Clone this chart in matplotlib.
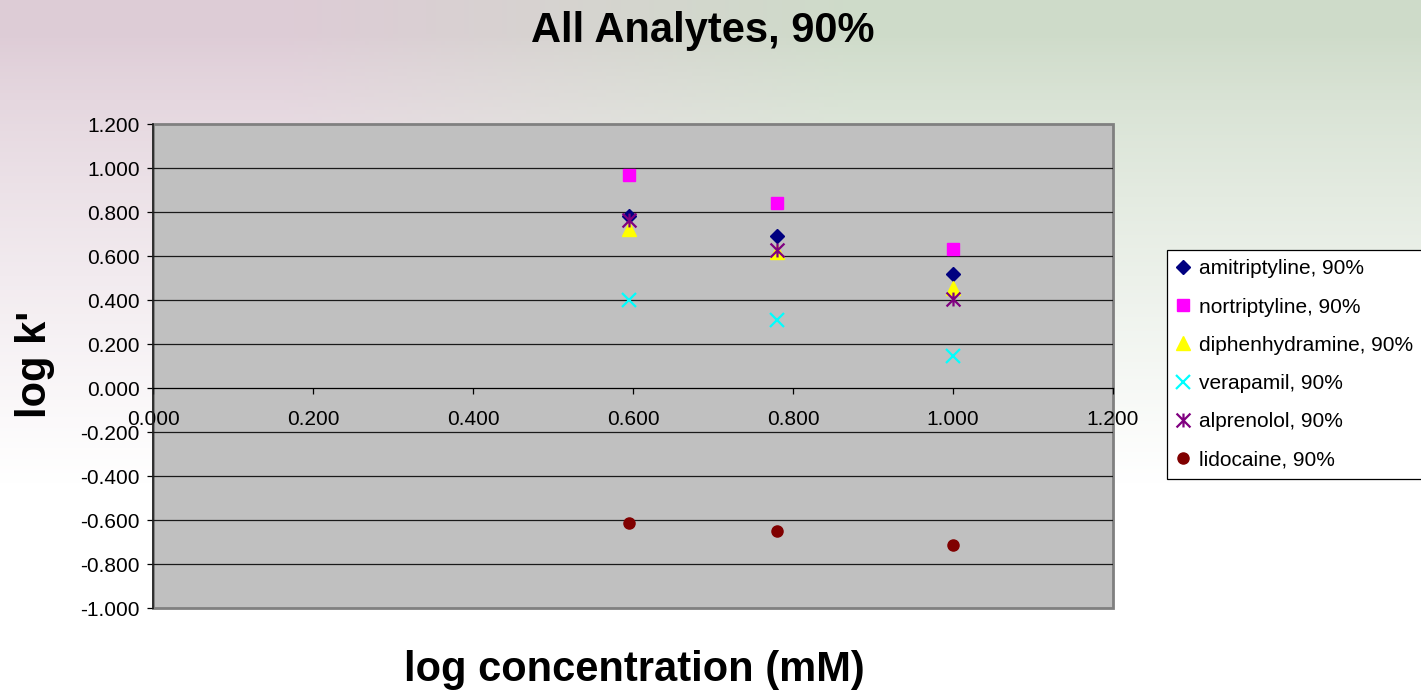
import numpy as np
import matplotlib
matplotlib.use("Agg")
import matplotlib.pyplot as plt
from matplotlib.path import Path
from matplotlib.patches import Rectangle

plt.rcParams['font.family'] = ['Liberation Sans', 'DejaVu Sans']

# ----------------------- Data ------------------------------------------------
log_conc = [0.595, 0.780, 1.000]

names = ["amitriptyline, 90%", "nortriptyline, 90%", "diphenhydramine, 90%",
         "verapamil, 90%", "alprenolol, 90%", "lidocaine, 90%"]
amitriptyline = [0.783, 0.691, 0.518]
nortriptyline = [0.967, 0.841, 0.632]
diphenhydramine = [0.722, 0.620, 0.455]
verapamil = [0.400, 0.309, 0.144]
alprenolol = [0.762, 0.627, 0.405]
lidocaine = [-0.614, -0.650, -0.714]

x_ticks = [0.0, 0.2, 0.4, 0.6, 0.8, 1.0, 1.2]
y_ticks = [-1.0, -0.8, -0.6, -0.4, -0.2, 0.0, 0.2, 0.4, 0.6, 0.8, 1.0, 1.2]

# Excel-style asterisk: an x with a vertical stroke
asterisk = Path([(-1, -1), (1, 1), (-1, 1), (1, -1), (0, -1), (0, 1)],
                [Path.MOVETO, Path.LINETO, Path.MOVETO, Path.LINETO,
                 Path.MOVETO, Path.LINETO])

series = [
    (amitriptyline, 'D', '#000080', 7.5, 1.0),
    (nortriptyline, 's', '#FF00FF', 8.5, 1.0),
    (diphenhydramine, '^', '#FFFF00', 9.5, 1.0),
    (verapamil, 'x', '#00FFFF', 9.5, 1.6),
    (alprenolol, asterisk, '#800080', 10.0, 1.6),
    (lidocaine, 'o', '#800000', 8.0, 1.0),
]

fig = plt.figure(figsize=(14.21, 6.90), dpi=100)

# decorative slide background (pink left, green right, fading to white below)
bg = fig.add_axes([0, 0, 1, 1], zorder=-10)
h, w = 200, 300
xx = np.linspace(0, 1, w)[None, :]
yy = np.linspace(0, 1, h)[:, None]
pink = np.array([0.87, 0.80, 0.84])
green = np.array([0.81, 0.86, 0.79])
mix = np.clip((xx - 0.2) / 0.4, 0, 1)[..., None]
top = pink * (1 - mix) + green * mix
fade = np.clip((yy - 0.05) / 0.65, 0, 1)[..., None] ** 0.8
img = top * (1 - fade) + np.ones(3) * fade
bg.imshow(img, aspect='auto', extent=[0, 1, 0, 1], origin='upper')
bg.axis('off')

ax = fig.add_axes([153 / 1421, 82 / 690, 960 / 1421, 484 / 690])
ax.set_facecolor('#C0C0C0')

for vals, marker, color, ms, mew in series:
    fill = color if marker in ('D', 's', '^', 'o') else 'none'
    ax.plot(log_conc, vals, linestyle='none', marker=marker, color=color,
            markerfacecolor=fill, markeredgecolor=color, markersize=ms,
            markeredgewidth=mew, zorder=3)

ax.set_xlim(0, 1.2)
ax.set_ylim(-1.0, 1.2)
ax.set_xticks(x_ticks)
ax.set_yticks(y_ticks)
ax.set_xticklabels([f"{v:.3f}" for v in x_ticks])
ax.set_yticklabels([f"{v:.3f}" for v in y_ticks])

for v in y_ticks[1:-1]:
    if v != 0.0:
        ax.axhline(v, color='#1a1a1a', linewidth=0.9, zorder=1)

ax.spines['bottom'].set_position(('data', 0))
ax.spines['bottom'].set_color('black')
ax.spines['bottom'].set_linewidth(0.9)
ax.spines['left'].set_color('#202020')
ax.spines['left'].set_linewidth(1.2)
ax.spines['top'].set_visible(False)
ax.spines['right'].set_visible(False)
ax.add_patch(Rectangle((0, 0), 1, 1, transform=ax.transAxes, fill=False,
                       edgecolor='#808080', linewidth=2.0, zorder=0.5,
                       clip_on=False))

ax.tick_params(axis='x', direction='out', length=4, width=0.9, pad=12,
               labelsize=15, colors='black')
ax.tick_params(axis='y', direction='out', length=4.5, width=0.9, pad=5,
               labelsize=15, colors='black')

leg = fig.legend(loc='upper left', bbox_to_anchor=(1167 / 1421, 1 - 250 / 690),
                 labels=names, handles=ax.lines, fontsize=15, frameon=True,
                 fancybox=False, edgecolor='black', framealpha=1,
                 labelspacing=0.92, handlelength=0.6, handletextpad=0.5,
                 borderpad=0.45, borderaxespad=0)
leg.get_frame().set_linewidth(0.9)

fig.text(703 / 1421, 1 - 31 / 690, "All Analytes, 90%", fontsize=30,
         fontweight='bold', ha='center', va='center')
fig.text(634.5 / 1421, 1 - 670 / 690, "log concentration (mM)", fontsize=30,
         fontweight='bold', ha='center', va='center')
fig.text(35 / 1421, 1 - 364 / 690, "log k'", fontsize=30, fontweight='bold',
         rotation=90, ha='center', va='center')

fig.savefig('out.png', dpi=100)
